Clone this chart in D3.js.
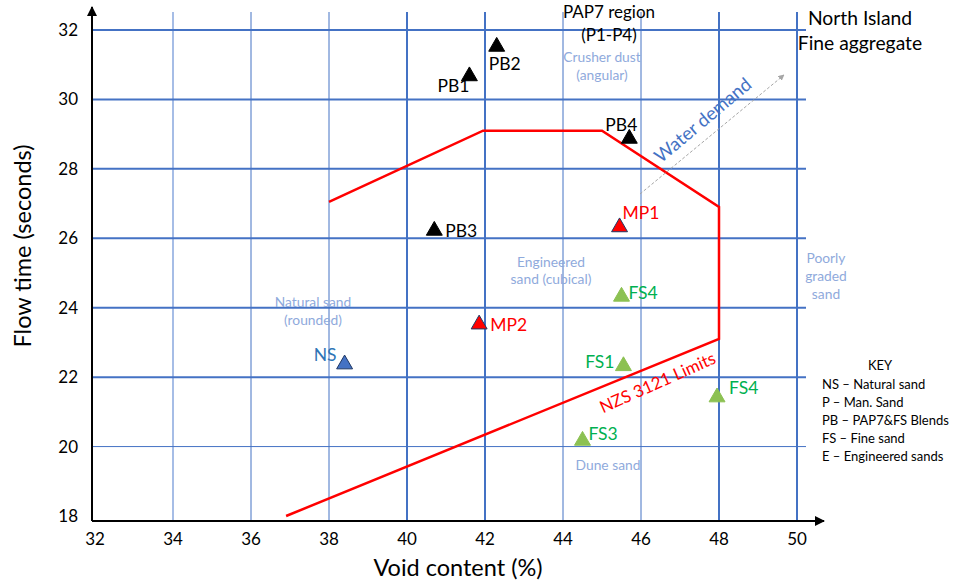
<!DOCTYPE html>
<html>
<head>
<meta charset="utf-8">
<script src="https://cdn.jsdelivr.net/npm/d3@7"></script>
<style>
  body { margin: 0; background: #fff; }
  svg text { font-family: Lato, "Open Sans", sans-serif; }
</style>
</head>
<body>
<div id="canvas"></div>
<script>
// tick values
let xTicks = [32, 34, 36, 38, 40, 42, 44, 46, 48, 50];
let yTicks = [18, 20, 22, 24, 26, 28, 30, 32];

// measured sands (void content %, flow time s)
let pointNames = ["PB1", "PB2", "PB3", "PB4", "MP1", "MP2", "NS", "FS4", "FS1", "FS4", "FS3"];
let pointGroups = ["PB", "PB", "PB", "PB", "MP", "MP", "NS", "FS", "FS", "FS", "FS"];
let voidContent = [41.6, 42.3, 40.7, 45.7, 45.45, 41.85, 38.4, 45.5, 45.55, 47.95, 44.5];
let flowTime = [30.7, 31.55, 26.25, 28.9, 26.35, 23.55, 22.4, 24.35, 22.35, 21.45, 20.2];

// NZS 3121 limits envelope
let limitVoid = [36.9, 48.0, 48.0, 45.0, 41.95, 38.0];
let limitFlow = [18.0, 23.1, 26.9, 29.1, 29.1, 27.05];

// key lines
let keyLines = ["NS \u2013 Natural sand", "P \u2013 Man. Sand", "PB \u2013 PAP7&FS Blends", "FS \u2013 Fine sand", "E \u2013 Engineered sands"];

window.onload = function() {
    let width = 954, height = 583;
    let svg = d3.select("#canvas").append("svg")
        .attr("width", width).attr("height", height);

    let x = d3.scaleLinear().domain([32, 50]).range([95, 797]);
    let y = d3.scaleLinear().domain([18, 32]).range([516, 30]);

    let gridBlue = "#4472c4";
    let faint = "#8faadc";

    // vertical grid
    let vWidth = {34: 2, 36: 1, 38: 1, 40: 2, 42: 2, 44: 1, 46: 1, 48: 2, 50: 2};
    svg.append("g").selectAll("line")
        .data(xTicks.slice(1))
        .enter().append("line")
        .attr("x1", d => x(d)).attr("x2", d => x(d))
        .attr("y1", 12).attr("y2", 521)
        .attr("stroke", d => d == 34 ? "#a6bde6" : gridBlue)
        .attr("stroke-width", d => vWidth[d]);

    // horizontal grid
    svg.append("g").selectAll("line")
        .data(yTicks.slice(1))
        .enter().append("line")
        .attr("x1", 92).attr("x2", 806)
        .attr("y1", d => y(d)).attr("y2", d => y(d))
        .attr("stroke", gridBlue)
        .attr("stroke-width", d => d == 20 ? 1 : 2);

    // axes with arrows
    let defs = svg.append("defs");
    defs.append("marker").attr("id", "arr")
        .attr("viewBox", "0 0 10 10").attr("refX", 9).attr("refY", 5)
        .attr("markerWidth", 5).attr("markerHeight", 5).attr("orient", "auto")
        .append("path").attr("d", "M0,0L10,5L0,10z").attr("fill", "#000");
    defs.append("marker").attr("id", "arrGrey")
        .attr("viewBox", "0 0 10 10").attr("refX", 9).attr("refY", 5)
        .attr("markerWidth", 6).attr("markerHeight", 6).attr("orient", "auto")
        .append("path").attr("d", "M0,0L10,5L0,10z").attr("fill", "#a6a6a6");

    svg.append("line").attr("x1", 92).attr("x2", 824).attr("y1", 521).attr("y2", 521)
        .attr("stroke", "#000").attr("stroke-width", 2).attr("marker-end", "url(#arr)");
    svg.append("line").attr("x1", 92).attr("x2", 92).attr("y1", 521).attr("y2", 7)
        .attr("stroke", "#000").attr("stroke-width", 2).attr("marker-end", "url(#arr)");

    // tick labels
    svg.append("g").selectAll("text")
        .data(xTicks).enter().append("text")
        .attr("x", d => x(d)).attr("y", 545)
        .attr("text-anchor", "middle").attr("font-size", 17)
        .text(d => d);
    svg.append("g").selectAll("text")
        .data(yTicks).enter().append("text")
        .attr("x", 78).attr("y", d => y(d) + 6)
        .attr("text-anchor", "end").attr("font-size", 17)
        .text(d => d);

    // axis titles
    svg.append("text").attr("x", 458).attr("y", 576)
        .attr("text-anchor", "middle").attr("font-size", 23.5)
        .text("Void content (%)");
    svg.append("text")
        .attr("transform", "translate(31,246) rotate(-90)")
        .attr("text-anchor", "middle").attr("font-size", 23.5)
        .text("Flow time (seconds)");

    // limits envelope
    let limitPts = limitVoid.map((v, i) => [x(v), y(limitFlow[i])]);
    svg.append("path")
        .attr("d", d3.line()(limitPts))
        .attr("fill", "none").attr("stroke", "#ff0000").attr("stroke-width", 2.5);
    svg.append("text")
        .attr("transform", "translate(660,388) rotate(-24)")
        .attr("text-anchor", "middle").attr("font-size", 17).attr("fill", "#ff0000")
        .text("NZS 3121 Limits");

    // water demand arrow
    svg.append("line")
        .attr("x1", 640).attr("y1", 194).attr("x2", 784).attr("y2", 75)
        .attr("stroke", "#a6a6a6").attr("stroke-width", 1)
        .attr("stroke-dasharray", "3,2").attr("marker-end", "url(#arrGrey)");
    svg.append("text")
        .attr("transform", "translate(707,125) rotate(-40)")
        .attr("text-anchor", "middle").attr("font-size", 18.5).attr("fill", gridBlue)
        .text("Water demand");

    // region notes
    let notes = [
        {t: ["PAP7 region", "(P1-P4)"], x: 609, y: 18, c: "#000", s: 17, lh: 23},
        {t: ["Crusher dust", "(angular)"], x: 602, y: 62, c: faint, s: 13.8, lh: 18},
        {t: ["North Island", "Fine aggregate"], x: 860, y: 25, c: "#000", s: 19.3, lh: 25},
        {t: ["Engineered", "sand (cubical)"], x: 551, y: 267, c: faint, s: 13.8, lh: 17},
        {t: ["Natural sand", "(rounded)"], x: 313, y: 307, c: faint, s: 13.8, lh: 18},
        {t: ["Poorly", "graded", "sand"], x: 826, y: 263, c: faint, s: 13.8, lh: 18},
        {t: ["Dune sand"], x: 608, y: 470, c: faint, s: 13.8, lh: 18}
    ];
    notes.forEach(n => {
        let t = svg.append("text").attr("text-anchor", "middle")
            .attr("font-size", n.s).attr("fill", n.c);
        n.t.forEach((s, i) => t.append("tspan").attr("x", n.x).attr("y", n.y + i * n.lh).text(s));
    });

    // key
    svg.append("text").attr("x", 880).attr("y", 370).attr("text-anchor", "middle")
        .attr("font-size", 13).text("KEY");
    svg.append("g").selectAll("text")
        .data(keyLines).enter().append("text")
        .attr("x", 822).attr("y", (d, i) => 389 + i * 18)
        .attr("font-size", 13).text(d => d);

    // points
    let fillOf = {PB: "#000000", MP: "#ff0000", NS: "#4472c4", FS: "#8cc152"};
    let strokeOf = {PB: "#000000", MP: "#1f3864", NS: "#1f3864", FS: "#8cc152"};
    let labelColor = {PB: "#000000", MP: "#ff0000", NS: "#2e75b6", FS: "#00b050"};
    // label placement [dx, dy (baseline), anchor]
    let labelPos = [[-16, 17, "middle"], [8, 24, "middle"], [11, 7, "start"], [-8, -7, "middle"],
                    [3, -7, "start"], [11, 8, "start"], [-8, -2, "end"], [7, 3, "start"],
                    [-9, 3, "end"], [12, -2, "start"], [6, 0, "start"]];
    let tri = d3.symbol().type(d3.symbolTriangle).size(110);

    let pts = svg.append("g").selectAll("g")
        .data(pointNames.map((n, i) => ({n: n, g: pointGroups[i], v: voidContent[i], f: flowTime[i], i: i})))
        .enter().append("g")
        .attr("transform", d => "translate(" + x(d.v) + "," + y(d.f) + ")");
    pts.append("path").attr("d", tri).attr("transform", "translate(0,1)")
        .attr("fill", d => fillOf[d.g]).attr("stroke", d => strokeOf[d.g]).attr("stroke-width", 1);
    pts.append("text")
        .attr("x", d => labelPos[d.i][0]).attr("y", d => labelPos[d.i][1])
        .attr("text-anchor", d => labelPos[d.i][2])
        .attr("font-size", 17.5).attr("fill", d => labelColor[d.g])
        .text(d => d.n);
}
</script>
</body>
</html>
